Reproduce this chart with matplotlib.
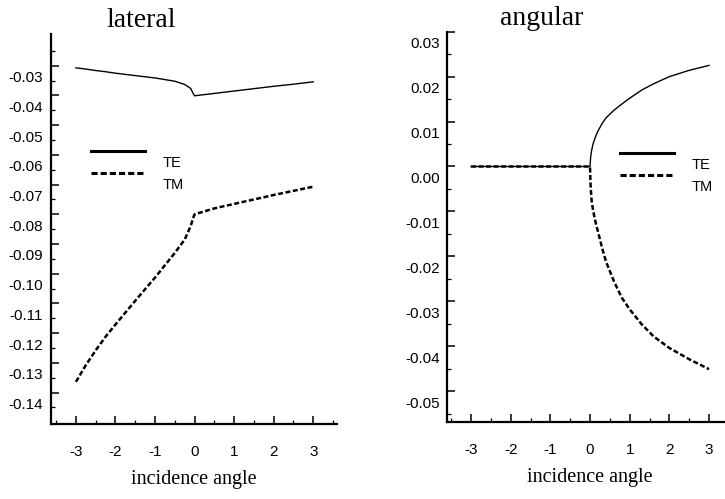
import numpy as np
import matplotlib
matplotlib.use('Agg')
import matplotlib.pyplot as plt
from matplotlib.transforms import ScaledTranslation
from matplotlib.lines import Line2D

plt.rcParams['axes.unicode_minus'] = False

# lateral shift vs incidence angle
lat_x = [-3, -2.75, -2.5, -2.25, -2, -1.5, -1, -0.5, -0.25, -0.1, -0.03, 0, 0.5, 1, 1.5, 2, 2.5, 3]
lat_te = [-0.0307, -0.0311, -0.0316, -0.0320, -0.0325, -0.0333, -0.0341, -0.0352, -0.0363, -0.0376,
          -0.0395, -0.0401, -0.0393, -0.0385, -0.0377, -0.0369, -0.0362, -0.0354]
lat_tm = [-0.1364, -0.1308, -0.1258, -0.1212, -0.1171, -0.1091, -0.1013, -0.0930, -0.0885, -0.0840,
          -0.0810, -0.0800, -0.0780, -0.0765, -0.0750, -0.0735, -0.0721, -0.0707]

# angular shift vs incidence angle
ang_x = [-3, -2, -1, 0, 0.01, 0.02, 0.04, 0.07, 0.1, 0.15, 0.2, 0.3, 0.4, 0.6, 0.8, 1.0, 1.3, 1.6,
         2, 2.5, 3]
ang_te = [0, 0, 0, 0, 0.0015, 0.0024, 0.0036, 0.0048, 0.0057, 0.0069, 0.0079, 0.0095, 0.0108,
          0.0125, 0.0139, 0.0152, 0.0170, 0.0184, 0.0200, 0.0214, 0.0225]
ang_tm = [0, 0, 0, 0, -0.0035, -0.0052, -0.0076, -0.0094, -0.0108, -0.0128, -0.0145, -0.0180,
          -0.0211, -0.0255, -0.0292, -0.0318, -0.0351, -0.0378, -0.0404, -0.0429, -0.0451]

x_major = [-3, -2, -1, 0, 1, 2, 3]
x_minor = [-3.5, -2.5, -1.5, -0.5, 0.5, 1.5, 2.5, 3.5]
lat_yticks = np.round(np.arange(-0.14, -0.025, 0.01), 2)
lat_yminor = np.round(np.arange(-0.145, -0.02, 0.01), 3)
ang_yticks = np.round(np.arange(-0.05, 0.035, 0.01), 2)
ang_yminor = np.round(np.arange(-0.055, 0.03, 0.01), 3)

serif = 'Liberation Serif'
sans = 'Liberation Sans'
dash = (0, (2, 1))

fig = plt.figure(figsize=(7.25, 4.99), dpi=100)
ax1 = fig.add_axes([51 / 725, 75 / 499, 286 / 725, 390 / 499])
ax2 = fig.add_axes([447.3 / 725, 77.3 / 499, 285.5 / 725, 390 / 499])


def style(ax, xlim, ylim, yt, ytm, title, tx, lab_fmt):
    ax.set_xlim(*xlim)
    ax.set_ylim(*ylim)
    for s in ['top', 'right']:
        ax.spines[s].set_visible(False)
    for s in ['left', 'bottom']:
        ax.spines[s].set_linewidth(1.6)
    ax.set_xticks(x_major)
    ax.set_xticks(x_minor, minor=True)
    ax.set_yticks(yt)
    ax.set_yticks(ytm, minor=True)
    ax.set_yticklabels([lab_fmt(v) for v in yt])
    ax.tick_params(which='major', direction='in', length=5.5, width=1.1, labelsize=11)
    ax.tick_params(which='minor', direction='in', length=3, width=0.9)
    ax.tick_params(axis='x', pad=15)
    ax.tick_params(axis='y', pad=5.5)
    for lab in ax.get_xticklabels() + ax.get_yticklabels():
        lab.set_fontfamily(sans)
    # labels sit a bit below their tick marks
    off = ScaledTranslation(0, -11 / 100, fig.dpi_scale_trans)
    for lab in ax.get_yticklabels():
        lab.set_transform(lab.get_transform() + off)
    ax.set_title(title, fontsize=20, family=serif, x=tx, pad=5)
    ax.set_xlabel('incidence angle', fontsize=14.5, family=serif, labelpad=8)


def fmt(v):
    s = '%.2f' % v
    return '0.00' if s == '-0.00' else s


style(ax1, (-3.63, 3.6), (-0.1506, -0.0193), lat_yticks, lat_yminor, 'lateral', 0.315, fmt)
style(ax2, (-3.6, 3.6), (-0.0568, 0.03), ang_yticks, ang_yminor, 'angular', 0.331, fmt)

ax1.plot(lat_x, lat_te, color='black', lw=1.0)
ax1.plot(lat_x, lat_tm, color='black', lw=1.8, linestyle=dash)
ax2.plot(ang_x, ang_te, color='black', lw=1.0)
ax2.plot(ang_x, ang_tm, color='black', lw=1.8, linestyle=dash)

handles = [Line2D([], [], color='black', lw=2.2),
           Line2D([], [], color='black', lw=2.2, linestyle=dash)]
for ax, anchor in [(ax1, (0.14, 0.715)), (ax2, (0.605, 0.705))]:
    leg = ax.legend(handles, ['TE', 'TM'], loc='upper left', bbox_to_anchor=anchor,
                    frameon=False, borderpad=0, borderaxespad=0, handlelength=3.7,
                    handletextpad=1.2, labelspacing=0.55, prop={'family': sans, 'size': 10.5})
    for t in leg.get_texts():
        t.set_y(-11)

fig.savefig('out.png', dpi=100)
